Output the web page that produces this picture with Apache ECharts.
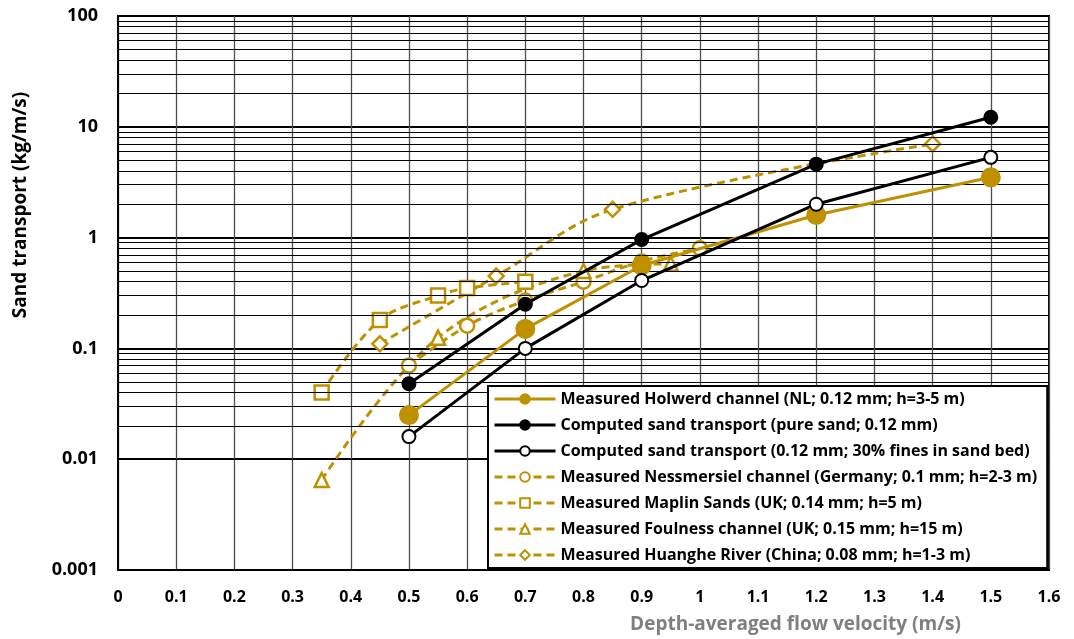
<!DOCTYPE html>
<html>
<head>
<meta charset="utf-8">
<script src="https://cdn.jsdelivr.net/npm/echarts@6/dist/echarts.min.js"></script>
<style>html,body{margin:0;padding:0;background:#fff;}#c{width:1074px;height:639px;}</style>
</head>
<body>
<div id="c"></div>
<script>
// ---- data ----
var xTicks = [0,0.1,0.2,0.3,0.4,0.5,0.6,0.7,0.8,0.9,1,1.1,1.2,1.3,1.4,1.5,1.6];
var yTickLabels = ['0.001','0.01','0.1','1','10','100'];

var velHolwerd = [0.5, 0.7, 0.9, 1.2, 1.5];
var qHolwerd   = [0.025, 0.15, 0.56, 1.6, 3.5];

var velPure = [0.5, 0.7, 0.9, 1.2, 1.5];
var qPure   = [0.048, 0.25, 0.96, 4.6, 12.2];

var velFines = [0.5, 0.7, 0.9, 1.2, 1.5];
var qFines   = [0.016, 0.10, 0.41, 2.0, 5.3];

var velNess = [0.5, 0.6, 0.7, 0.8, 0.9, 1.0];
var qNess   = [0.07, 0.16, 0.27, 0.40, 0.61, 0.80];

var velMaplin = [0.35, 0.45, 0.55, 0.6, 0.7];
var qMaplin   = [0.04, 0.18, 0.30, 0.35, 0.40];

var velFoul = [0.35, 0.55, 0.8, 0.95];
var qFoul   = [0.0065, 0.125, 0.5, 0.58];

var velHuang = [0.45, 0.65, 0.85, 1.4];
var qHuang   = [0.11, 0.45, 1.8, 7.0];

var names = [
  'Measured Holwerd channel (NL; 0.12 mm; h=3-5 m)',
  'Computed sand transport (pure sand; 0.12 mm)',
  'Computed sand transport (0.12 mm; 30% fines in sand bed)',
  'Measured Nessmersiel channel (Germany; 0.1 mm; h=2-3 m)',
  'Measured Maplin Sands (UK; 0.14 mm; h=5 m)',
  'Measured Foulness channel (UK; 0.15 mm; h=15 m)',
  'Measured Huanghe River (China; 0.08 mm; h=1-3 m)'
];

// ---- helpers ----
function pairs(xs, ys){ return xs.map(function(x,i){ return [x, ys[i]]; }); }
var GOLD = '#BF9000';
var FONT = '"Open Sans", "Noto Sans", sans-serif';

// minor log gridlines (2..9 in each decade)
var minorLines = [];
[0.001,0.01,0.1,1,10].forEach(function(d){
  for (var k=2;k<=9;k++){ minorLines.push({yAxis: +(d*k).toPrecision(3)}); }
});

function solid(name, xs, ys, color, fill, size){
  return {
    name: name, type: 'line', data: pairs(xs, ys),
    symbol: 'circle', symbolSize: size,
    lineStyle: {color: color, width: 3, type: 'solid'},
    itemStyle: {color: fill, borderColor: color, borderWidth: 2},
    z: 5
  };
}
function dashed(name, xs, ys, sym, size){
  return {
    name: name, type: 'line', data: pairs(xs, ys), smooth: 0.35,
    symbol: sym, symbolSize: size,
    lineStyle: {color: GOLD, width: 3, type: [8,5]},
    itemStyle: {color: '#ffffff', borderColor: GOLD, borderWidth: 2.5},
    z: 4
  };
}

var chart = echarts.init(document.getElementById('c'), null, {renderer: 'canvas'});
chart.setOption({
  animation: false,
  backgroundColor: '#ffffff',
  grid: {left: 118, right: 25, top: 16, bottom: 69, show: true, borderColor: '#000', borderWidth: 2, backgroundColor: 'transparent'},
  xAxis: {
    type: 'value', min: 0, max: 1.6, interval: 0.1,
    axisLine: {show: true, lineStyle: {color: '#000', width: 2}},
    axisTick: {show: false},
    splitLine: {show: true, lineStyle: {color: '#4d4d4d', width: 1.3}},
    axisLabel: {margin: 19, color: '#000', fontFamily: FONT, fontWeight: 'bold', fontSize: 16,
      formatter: function(v){ return String(+v.toFixed(1)); }},
    name: 'Depth-averaged flow velocity (m/s)',
    nameLocation: 'middle', nameGap: 45,
    nameTextStyle: {color: '#7F7F7F', fontFamily: FONT, fontWeight: 'bold', fontSize: 19, padding: [0,0,0,424]}
  },
  yAxis: {
    type: 'log', logBase: 10, min: 0.001, max: 100,
    axisLine: {show: true, lineStyle: {color: '#000', width: 2}},
    axisTick: {show: false},
    splitLine: {show: true, lineStyle: {color: '#000', width: 2}},
    axisLabel: {margin: 20, color: '#000', fontFamily: FONT, fontWeight: 'bold', fontSize: 18,
      formatter: function(v){ var e = Math.round(Math.log10(v)); return yTickLabels[e+3]; }},
    name: 'Sand transport (kg/m/s)',
    nameLocation: 'middle', nameGap: 88,
    nameTextStyle: {color: '#000', fontFamily: FONT, fontWeight: 'bold', fontSize: 19, padding: [0,0,0,176]}
  },
  legend: {
    orient: 'vertical', left: 488, top: 386,
    data: names,
    backgroundColor: '#ffffff', borderColor: '#000', borderWidth: 2,
    padding: [5, 10, 5, 5],
    itemWidth: 61, itemHeight: 12, itemGap: 10,
    lineStyle: {width: 3},
    textStyle: {color: '#000', fontFamily: FONT, fontWeight: 'bold', fontSize: 16},
    z: 10
  },
  series: [
    solid(names[0], velHolwerd, qHolwerd, GOLD, GOLD, 18),
    solid(names[1], velPure, qPure, '#000', '#000', 13),
    solid(names[2], velFines, qFines, '#000', '#fff', 13),
    dashed(names[3], velNess, qNess, 'circle', 14),
    dashed(names[4], velMaplin, qMaplin, 'rect', 14),
    dashed(names[5], velFoul, qFoul, 'triangle', 14),
    dashed(names[6], velHuang, qHuang, 'diamond', 15),
    {
      name: 'minor', type: 'line', data: [], silent: true, z: 1,
      markLine: {silent: true, symbol: 'none', label: {show: false},
        lineStyle: {color: '#000', width: 1, type: 'solid'},
        data: minorLines, animation: false}
    }
  ]
});
</script>
</body>
</html>
